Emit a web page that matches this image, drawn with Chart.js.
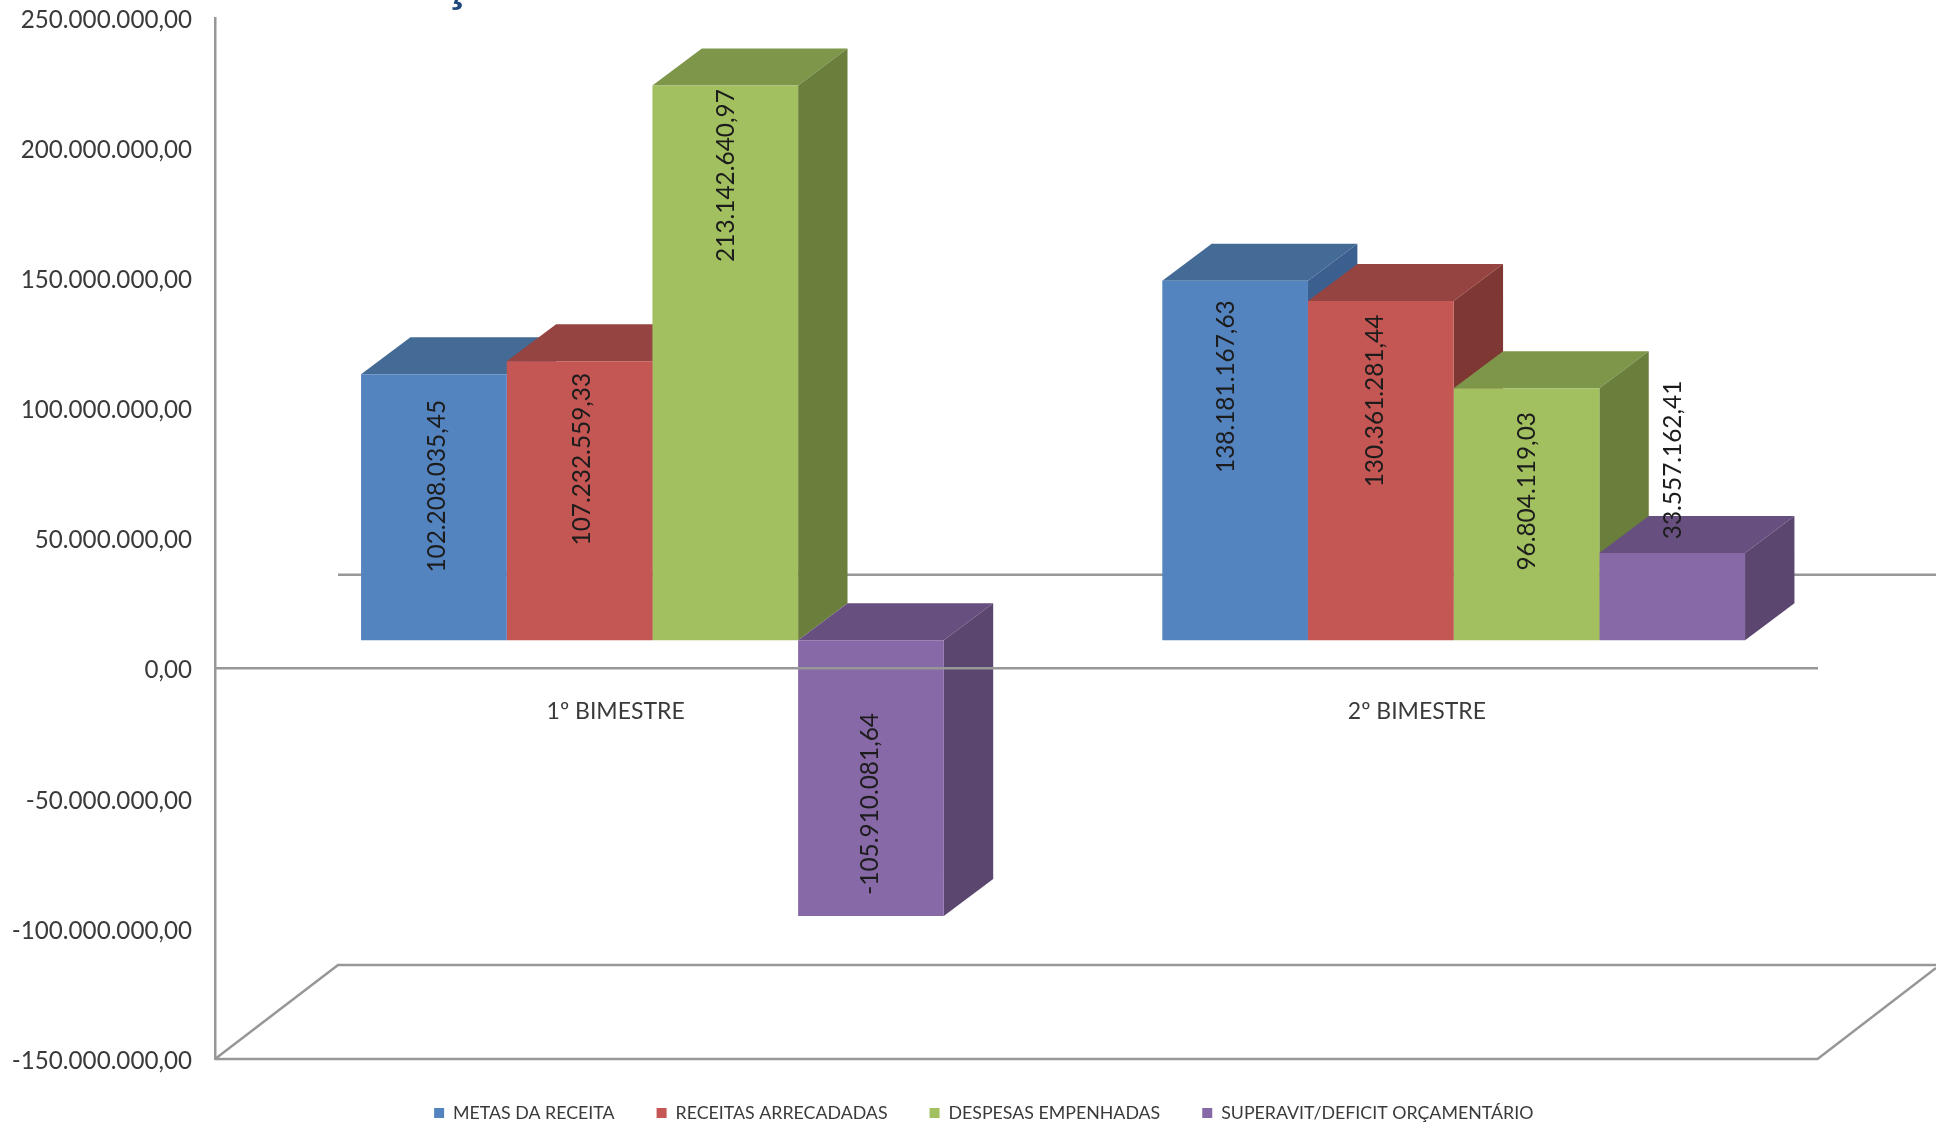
<!DOCTYPE html>
<html lang="pt-BR">
<head>
<meta charset="utf-8">
<title>Metas, receitas, despesas e resultado por bimestre</title>
<style>html,body{margin:0;padding:0;background:#fff}canvas{display:block}</style>
<script src="https://cdn.jsdelivr.net/npm/chart.js@4"></script>
</head>
<body>
<canvas id="c" width="1936" height="1122"></canvas>
<script>
const categories = ['1º BIMESTRE', '2º BIMESTRE'];
const seriesNames = ['METAS DA RECEITA', 'RECEITAS ARRECADADAS', 'DESPESAS EMPENHADAS', 'SUPERAVIT/DEFICIT ORÇAMENTÁRIO'];
const metasReceita = [102208035.45, 138181167.63];
const receitasArrecadadas = [107232559.33, 130361281.44];
const despesasEmpenhadas = [213142640.97, 96804119.03];
const superavitDeficit = [-105910081.64, 33557162.41];
const axisMin = -150000000;
const axisMax = 250000000;
const axisStep = 50000000;

const FRONT = ['#5484c0', '#c45653', '#a2c05f', '#8869a7'];
const TOP   = ['#446a96', '#964442', '#7e964a', '#675080'];
const SIDE  = ['#3b6090', '#7e3733', '#6b7f3c', '#5a466e'];
const AXIS = '#979797';
const TEXT = '#3a3a3a';
const DEPTH = {dx: 49.4, dy: 37};
const WALL = {dx: 123, dy: 94};
const BAR_SHIFT_X = 36.8;
const BAR_SHIFT_VALUE = 10900000;
// label placement per series and category: distance from the bar's far end, sideways nudge
const LABEL_INSET = [[112, 106], [98, 100], [90, 103], [112, -93]];
const LABEL_NUDGE = [[3, -9], [3, -6], [1, 1], [-1, 1]];

function fmt(v) {
  const neg = v < 0;
  const [i, d] = Math.abs(v).toFixed(2).split('.');
  return (neg ? '-' : '') + i.replace(/\B(?=(\d{3})+$)/g, '.') + ',' + d;
}

class ShiftedCategory extends Chart.CategoryScale {
  getPixelForValue(value, index) {
    return super.getPixelForValue(value, index) + BAR_SHIFT_X;
  }
}
ShiftedCategory.id = 'shiftedCategory';
ShiftedCategory.defaults = Chart.CategoryScale.defaults;
Chart.register(ShiftedCategory);

const faces3d = {
  id: 'faces3d',
  beforeLayout(chart) {
    const lg = chart.legend;
    if (lg && !lg._patched) {
      const fit = lg.fit;
      lg.fit = function () { fit.call(this); this.height = 63; };
      lg._patched = true;
    }
  },
  afterLayout(chart) {
    const lg = chart.legend;
    lg.left += 75; lg.right += 75;
    lg.top = 1062; lg.bottom = 1122;
  },
  beforeDatasetsDraw(chart) {
    const ctx = chart.ctx, a = chart.chartArea, W = chart.width;
    const zero = chart.scales.y.getPixelForValue(0);
    ctx.save();
    ctx.strokeStyle = AXIS; ctx.lineWidth = 2.5;
    ctx.beginPath();
    ctx.moveTo(a.left + WALL.dx, zero - WALL.dy); ctx.lineTo(W, zero - WALL.dy);
    ctx.moveTo(a.left, a.bottom); ctx.lineTo(a.right, a.bottom);
    ctx.lineTo(W, a.bottom - WALL.dy + 3);
    ctx.moveTo(W, a.bottom - WALL.dy); ctx.lineTo(a.left + WALL.dx, a.bottom - WALL.dy);
    ctx.lineTo(a.left, a.bottom);
    ctx.stroke();
    // top and side faces of every bar, first series first; the fronts are drawn over them by the library
    chart.data.datasets.forEach((ds, i) => {
      for (const b of chart.getDatasetMeta(i).data) {
        const p = b.getProps(['x', 'y', 'base', 'width'], true);
        const l = p.x - p.width / 2, r = p.x + p.width / 2;
        const t = Math.min(p.y, p.base), bt = Math.max(p.y, p.base);
        ctx.fillStyle = TOP[i];
        ctx.beginPath();
        ctx.moveTo(l, t); ctx.lineTo(l + DEPTH.dx, t - DEPTH.dy);
        ctx.lineTo(r + DEPTH.dx, t - DEPTH.dy); ctx.lineTo(r, t);
        ctx.closePath(); ctx.fill();
        ctx.fillStyle = SIDE[i];
        ctx.beginPath();
        ctx.moveTo(r, t); ctx.lineTo(r + DEPTH.dx, t - DEPTH.dy);
        ctx.lineTo(r + DEPTH.dx, bt - DEPTH.dy); ctx.lineTo(r, bt);
        ctx.closePath(); ctx.fill();
      }
    });
    ctx.restore();
  },
  afterDatasetsDraw(chart) {
    const ctx = chart.ctx;
    ctx.save();
    ctx.fillStyle = '#1c1c1c';
    ctx.font = '24.4px Lato';
    ctx.textAlign = 'center';
    ctx.textBaseline = 'middle';
    chart.data.datasets.forEach((ds, i) => {
      chart.getDatasetMeta(i).data.forEach((b, j) => {
        const p = b.getProps(['x', 'y', 'base'], true);
        const up = p.y <= p.base;
        const cy = up ? p.y + LABEL_INSET[i][j] : p.y - LABEL_INSET[i][j];
        ctx.save();
        ctx.translate(p.x + LABEL_NUDGE[i][j], cy);
        ctx.rotate(-Math.PI / 2);
        ctx.fillText(fmt(ds.data[j]), 0, 0);
        ctx.restore();
      });
    });
    ctx.restore();
  },
  afterDraw(chart) {
    const ctx = chart.ctx;
    ctx.save();
    ctx.fillStyle = '#1f497d';
    ctx.font = 'bold 48px "Liberation Sans"';
    ctx.textAlign = 'center';
    ctx.textBaseline = 'alphabetic';
    ctx.fillText('Ç', 456, 0);
    ctx.restore();
  }
};

const seriesValues = [metasReceita, receitasArrecadadas, despesasEmpenhadas, superavitDeficit];

new Chart(document.getElementById('c'), {
  type: 'bar',
  plugins: [faces3d],
  data: {
    labels: categories,
    datasets: seriesNames.map((name, i) => ({
      label: name,
      data: seriesValues[i],
      backgroundColor: FRONT[i],
      borderWidth: 0,
      xAxisID: 'xBars',
      yAxisID: 'yBars',
      categoryPercentage: 0.7273,
      barPercentage: 1
    }))
  },
  options: {
    responsive: false,
    animation: false,
    devicePixelRatio: 1,
    layout: {padding: {left: 0, right: 118.5, top: 18, bottom: 0}},
    plugins: {
      title: {display: false},
      tooltip: {enabled: false},
      legend: {
        display: true,
        position: 'bottom',
        labels: {
          boxWidth: 10,
          boxHeight: 10,
          padding: 42,
          color: TEXT,
          font: {family: 'Lato', size: 17.8}
        }
      }
    },
    scales: {
      x: {
        type: 'category',
        offset: true,
        position: {y: 0},
        grid: {display: false, drawTicks: false},
        border: {display: true, color: AXIS, width: 2.5, z: 1},
        ticks: {color: TEXT, font: {family: 'Lato', size: 23}, padding: 29, maxRotation: 0, autoSkip: false}
      },
      xBars: {
        type: 'shiftedCategory',
        axis: 'x',
        display: false,
        offset: true,
        grid: {display: false}
      },
      y: {
        type: 'linear',
        position: 'left',
        min: axisMin,
        max: axisMax,
        afterFit(s) { s.width = 215; s.paddingTop = 0; s.paddingBottom = 0; },
        grid: {display: false, drawTicks: false},
        border: {display: true, color: AXIS, width: 2.5},
        ticks: {
          stepSize: axisStep,
          padding: 23,
          labelOffset: 2,
          color: TEXT,
          font: {family: 'Lato', size: 24.2},
          callback: v => fmt(v)
        }
      },
      yBars: {
        type: 'linear',
        axis: 'y',
        display: false,
        min: axisMin - BAR_SHIFT_VALUE,
        max: axisMax - BAR_SHIFT_VALUE,
        grid: {display: false}
      }
    }
  }
});
</script>
</body>
</html>
